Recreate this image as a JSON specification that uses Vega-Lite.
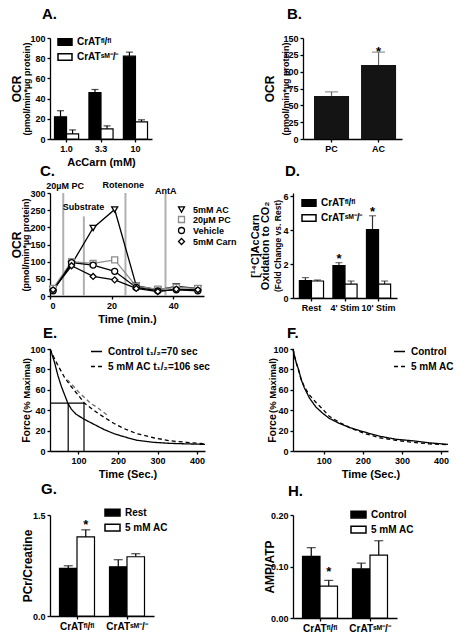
{
 "$schema": "https://vega.github.io/schema/vega-lite/v6.json",
 "padding": {"left": 10, "top": 7, "right": 0, "bottom": 0},
 "datasets": {
  "c": [
   {"t":1,"s":"5mM AC","v":20},{"t":7,"s":"5mM AC","v":92},{"t":14,"s":"5mM AC","v":198},{"t":21,"s":"5mM AC","v":252},{"t":28,"s":"5mM AC","v":30},{"t":35,"s":"5mM AC","v":18},{"t":41,"s":"5mM AC","v":28},{"t":48,"s":"5mM AC","v":22},
   {"t":1,"s":"20µM PC","v":22},{"t":7,"s":"20µM PC","v":100},{"t":14,"s":"20µM PC","v":95},{"t":21,"s":"20µM PC","v":105},{"t":28,"s":"20µM PC","v":28},{"t":35,"s":"20µM PC","v":20},{"t":41,"s":"20µM PC","v":25},{"t":48,"s":"20µM PC","v":22},
   {"t":1,"s":"Vehicle","v":15},{"t":7,"s":"Vehicle","v":97},{"t":14,"s":"Vehicle","v":90},{"t":21,"s":"Vehicle","v":72},{"t":28,"s":"Vehicle","v":25},{"t":35,"s":"Vehicle","v":15},{"t":41,"s":"Vehicle","v":18},{"t":48,"s":"Vehicle","v":15},
   {"t":1,"s":"5mM Carn","v":18},{"t":7,"s":"5mM Carn","v":88},{"t":14,"s":"5mM Carn","v":57},{"t":21,"s":"5mM Carn","v":47},{"t":28,"s":"5mM Carn","v":22},{"t":35,"s":"5mM Carn","v":13},{"t":41,"s":"5mM Carn","v":20},{"t":48,"s":"5mM Carn","v":18}
  ],
  "e": [
   {"t":28,"s":"Control t₁/₂=70 sec","v":100},{"t":32,"s":"Control t₁/₂=70 sec","v":96},{"t":36,"s":"Control t₁/₂=70 sec","v":91},{"t":40,"s":"Control t₁/₂=70 sec","v":86},{"t":48,"s":"Control t₁/₂=70 sec","v":74},{"t":57,"s":"Control t₁/₂=70 sec","v":63},{"t":65,"s":"Control t₁/₂=70 sec","v":55},{"t":73,"s":"Control t₁/₂=70 sec","v":47},{"t":82,"s":"Control t₁/₂=70 sec","v":41},{"t":94,"s":"Control t₁/₂=70 sec","v":36},{"t":115,"s":"Control t₁/₂=70 sec","v":31},{"t":140,"s":"Control t₁/₂=70 sec","v":26},{"t":165,"s":"Control t₁/₂=70 sec","v":21},{"t":190,"s":"Control t₁/₂=70 sec","v":17},{"t":215,"s":"Control t₁/₂=70 sec","v":14},{"t":248,"s":"Control t₁/₂=70 sec","v":10.5},{"t":290,"s":"Control t₁/₂=70 sec","v":8.5},{"t":332,"s":"Control t₁/₂=70 sec","v":7.5},{"t":373,"s":"Control t₁/₂=70 sec","v":7},{"t":420,"s":"Control t₁/₂=70 sec","v":6.5},
   {"t":28,"s":"5 mM AC t₁/₂=106 sec","v":100},{"t":34,"s":"5 mM AC t₁/₂=106 sec","v":95},{"t":40,"s":"5 mM AC t₁/₂=106 sec","v":90},{"t":48,"s":"5 mM AC t₁/₂=106 sec","v":84},{"t":65,"s":"5 mM AC t₁/₂=106 sec","v":72},{"t":82,"s":"5 mM AC t₁/₂=106 sec","v":63},{"t":99,"s":"5 mM AC t₁/₂=106 sec","v":55},{"t":115,"s":"5 mM AC t₁/₂=106 sec","v":47},{"t":132,"s":"5 mM AC t₁/₂=106 sec","v":42},{"t":149,"s":"5 mM AC t₁/₂=106 sec","v":37},{"t":165,"s":"5 mM AC t₁/₂=106 sec","v":33},{"t":190,"s":"5 mM AC t₁/₂=106 sec","v":27},{"t":215,"s":"5 mM AC t₁/₂=106 sec","v":22},{"t":248,"s":"5 mM AC t₁/₂=106 sec","v":17},{"t":290,"s":"5 mM AC t₁/₂=106 sec","v":13},{"t":332,"s":"5 mM AC t₁/₂=106 sec","v":10},{"t":373,"s":"5 mM AC t₁/₂=106 sec","v":8.5},{"t":420,"s":"5 mM AC t₁/₂=106 sec","v":7},
   {"t":72,"s":"AC2","v":70},{"t":100,"s":"AC2","v":58},{"t":130,"s":"AC2","v":47},{"t":150,"s":"AC2","v":42},{"t":177,"s":"AC2","v":34}
  ],
  "f": [
   {"t":21,"s":"Control","v":100},{"t":25,"s":"Control","v":93},{"t":29,"s":"Control","v":87},{"t":36,"s":"Control","v":79},{"t":42,"s":"Control","v":70},{"t":50,"s":"Control","v":62},{"t":63,"s":"Control","v":52},{"t":80,"s":"Control","v":43},{"t":97,"s":"Control","v":37},{"t":114,"s":"Control","v":32},{"t":140,"s":"Control","v":27},{"t":166,"s":"Control","v":23},{"t":200,"s":"Control","v":19},{"t":243,"s":"Control","v":14.5},{"t":285,"s":"Control","v":11.5},{"t":328,"s":"Control","v":10},{"t":370,"s":"Control","v":8},{"t":418,"s":"Control","v":6.5},
   {"t":21,"s":"5 mM AC","v":100},{"t":25,"s":"5 mM AC","v":93},{"t":29,"s":"5 mM AC","v":87},{"t":36,"s":"5 mM AC","v":78},{"t":42,"s":"5 mM AC","v":70},{"t":50,"s":"5 mM AC","v":63},{"t":63,"s":"5 mM AC","v":55},{"t":80,"s":"5 mM AC","v":47.5},{"t":97,"s":"5 mM AC","v":41},{"t":114,"s":"5 mM AC","v":34},{"t":140,"s":"5 mM AC","v":28},{"t":166,"s":"5 mM AC","v":23},{"t":200,"s":"5 mM AC","v":17.7},{"t":243,"s":"5 mM AC","v":13},{"t":285,"s":"5 mM AC","v":10.5},{"t":328,"s":"5 mM AC","v":8.5},{"t":370,"s":"5 mM AC","v":7},{"t":418,"s":"5 mM AC","v":6.2}
  ]
 },
 "config": {
  "font": "Liberation Sans",
  "view": {"stroke": null},
  "axis": {"labelFont": "Liberation Sans", "labelFontSize": 9, "labelFontWeight": "bold", "labelColor": "black", "titleFont": "Liberation Sans", "titleFontSize": 11, "titleFontWeight": "bold", "titleColor": "black", "domainColor": "black", "domainWidth": 1.3, "tickColor": "black", "tickWidth": 1.3, "tickSize": 3, "labelPadding": 2, "grid": false},
  "axisX": {"titlePadding": 3},
  "axisY": {"titleBaseline": "alphabetic"},
  "title": {"font": "Liberation Sans", "fontSize": 15, "fontWeight": "bold", "color": "black", "anchor": "start", "frame": "group", "offset": 8},
  "legend": {"labelFont": "Liberation Sans", "labelFontWeight": "bold", "labelColor": "black", "labelFontSize": 10, "padding": 0, "rowPadding": 1, "labelOffset": 4}
 },
 "columns": 2,
 "spacing": {"row": -3, "column": 11},
 "align": "each",
 "bounds": "full",
 "resolve": {"scale": {"fill": "independent", "xOffset": "independent", "shape": "independent", "stroke": "independent", "color": "independent", "strokeDash": "independent"}, "legend": {"fill": "independent", "shape": "independent", "stroke": "independent", "color": "independent", "strokeDash": "independent"}},
 "concat": [
  {
   "width": 102, "height": 101,
   "title": {"text": "A.", "dx": -8, "offset": 12},
   "data": {"values": [
    {"dose":"1.0","g":"CrATᶠˡ/ᶠˡ","v":22,"u":28},
    {"dose":"1.0","g":"CrATˢᴹ⁻/⁻","v":5,"u":9},
    {"dose":"3.3","g":"CrATᶠˡ/ᶠˡ","v":46,"u":49},
    {"dose":"3.3","g":"CrATˢᴹ⁻/⁻","v":10,"u":13},
    {"dose":"10","g":"CrATᶠˡ/ᶠˡ","v":82,"u":86},
    {"dose":"10","g":"CrATˢᴹ⁻/⁻","v":17,"u":19}
   ]},
   "encoding": {
    "x": {"field":"dose","type":"nominal","sort":["1.0","3.3","10"],"scale":{"paddingInner":0.3,"paddingOuter":0.13},"axis":{"title":"AcCarn (mM)","labelAngle":0}},
    "xOffset": {"field":"g","type":"nominal","sort":["CrATᶠˡ/ᶠˡ","CrATˢᴹ⁻/⁻"]}
   },
   "layer": [
    {"mark":{"type":"rule","color":"black","strokeWidth":1.2},"encoding":{"y":{"field":"v","type":"quantitative","scale":{"domain":[0,100],"nice":false},"axis":{"values":[0,20,40,60,80,100],"title":"(pmol/min*µg protein)","titleFontSize":9,"titleX":-21}},"y2":{"field":"u"}}},
    {"mark":{"type":"tick","color":"black","thickness":1.2,"size":7},"encoding":{"y":{"field":"u","type":"quantitative","axis":null}}},
    {"mark":{"type":"bar","stroke":"black","strokeWidth":1.2},"encoding":{"y":{"field":"v","type":"quantitative","axis":{"orient":"left","title":"OCR","titleFontSize":12,"titleX":-29.5,"labels":false,"ticks":false,"domain":false}},"fill":{"field":"g","type":"nominal","sort":["CrATᶠˡ/ᶠˡ","CrATˢᴹ⁻/⁻"],"scale":{"range":["black","white"]},"legend":{"orient":"none","legendX":7,"legendY":-4,"title":null,"symbolType":"M-1,-0.45H1V0.45H-1Z","symbolSize":196,"labelFontSize":10,"rowPadding":-4,"encode":{"symbols":{"update":{"stroke":{"value":"black"},"strokeWidth":{"value":1.2}}}}}}}}
   ],
   "resolve": {"axis": {"y": "independent"}}
  },
  {
   "width": 109, "height": 101,
   "title": {"text": "B.", "dx": -6, "offset": 12},
   "data": {"values": [{"c":"PC","v":64,"u":70},{"c":"AC","v":110,"u":129,"s":"*"}]},
   "encoding": {"x": {"field":"c","type":"nominal","sort":["PC","AC"],"scale":{"range":[10,109],"paddingInner":0.255,"paddingOuter":0.18,"align":0.65},"axis":{"title":null,"labelAngle":0}}},
   "layer": [
    {"mark":{"type":"rule","color":"#666666","strokeWidth":1.2},"encoding":{"y":{"field":"v","type":"quantitative","scale":{"domain":[0,150],"nice":false},"axis":{"offset":-10,"values":[0,25,50,75,100,125,150],"title":"(pmol/min*µg protein)","titleFontSize":9,"titleX":-15}},"y2":{"field":"u"}}},
    {"mark":{"type":"tick","color":"#666666","thickness":1.2,"size":13},"encoding":{"y":{"field":"u","type":"quantitative","axis":null}}},
    {"mark":{"type":"bar","color":"#141414"},"encoding":{"y":{"field":"v","type":"quantitative","axis":{"orient":"left","offset":-10,"title":"OCR","titleFontSize":12,"titleX":-30,"labels":false,"ticks":false,"domain":false}}}},
    {"transform":[{"filter":"datum.s"}],"mark":{"type":"text","fontSize":13,"fontWeight":"bold","baseline":"alphabetic","dy":4,"color":"black"},"encoding":{"y":{"field":"u","type":"quantitative","axis":null},"text":{"field":"s"}}}
   ],
   "resolve": {"axis": {"y": "independent"}}
  },
  {
   "width": 154, "height": 103,
   "title": {"text": "C.", "dx": -10, "offset": 2},
   "layer": [
    {
     "data": {"values": [{"t":4.3,"b":0,"top":300},{"t":11,"b":0,"top":232},{"t":24.5,"b":0,"top":300},{"t":37.5,"b":0,"top":297}]},
     "mark": {"type":"rule","color":"#b0b0b0","strokeWidth":2},
     "encoding": {
      "x": {"field":"t","type":"quantitative","scale":{"domain":[0,50],"nice":false},"axis":{"values":[0,10,20,30,40,50],"title":["Time (min.)",""],"titleLineHeight":5}},
      "y": {"field":"b","type":"quantitative","scale":{"domain":[0,300],"nice":false},"axis":{"values":[0,50,100,150,200,250,300],"title":"(pmol/min*µg protein)","titleFontSize":9,"titleX":-22}},
      "y2": {"field":"top"}
     }
    },
    {
     "data": {"values": [{"t":4.9,"y":320,"label":"20µM PC"},{"t":10.9,"y":259,"label":"Substrate"},{"t":23.8,"y":323,"label":"Rotenone"},{"t":37.6,"y":306,"label":"AntA"}]},
     "mark": {"type":"text","fontSize":9,"fontWeight":"bold","color":"black"},
     "encoding": {"x":{"field":"t","type":"quantitative"},"y":{"field":"y","type":"quantitative","axis":null},"text":{"field":"label"}}
    },
    {
     "data": {"name":"c"},
     "mark": {"type":"line","strokeWidth":1.3},
     "encoding": {
      "x": {"field":"t","type":"quantitative"},
      "y": {"field":"v","type":"quantitative","axis":{"orient":"left","title":"OCR","titleFontSize":12,"titleX":-30,"labels":false,"ticks":false,"domain":false}},
      "color": {"field":"s","type":"nominal","sort":["5mM AC","20µM PC","Vehicle","5mM Carn"],"scale":{"range":["black","#8c8c8c","black","black"]},"legend":null}
     }
    },
    {
     "data": {"name":"c"},
     "mark": {"type":"point","filled":true,"fill":"white","strokeWidth":1.3,"size":36,"opacity":1},
     "encoding": {
      "x": {"field":"t","type":"quantitative"},
      "y": {"field":"v","type":"quantitative","axis":null},
      "shape": {"field":"s","type":"nominal","scale":{"domain":["5mM AC","20µM PC","Vehicle","5mM Carn"],"range":["triangle-down","square","circle","diamond"]},"legend":{"orient":"none","legendX":127,"legendY":12,"title":null,"symbolSize":36,"symbolStrokeWidth":1.3,"labelFontSize":9,"rowPadding":-5,"labelOffset":7,"encode":{"labels":{"update":{"fill":{"signal":"datum.value === '20µM PC' ? '#8c8c8c' : 'black'"},"fontWeight":{"signal":"datum.value === '20µM PC' ? 'normal' : 'bold'"}}},"symbols":{"update":{"fill":{"value":"white"},"shape":{"signal":"datum.value === '5mM AC' ? 'M-2,0H-1M1,0H2M-1,-0.85H1L0,0.95Z' : datum.value === '20µM PC' ? 'M-2,0H-0.9M0.9,0H2M-0.9,-0.9H0.9V0.9H-0.9Z' : datum.value === 'Vehicle' ? 'M-2,0H-1M1,0H2M1,0A1,1,0,1,1,-1,0A1,1,0,1,1,1,0Z' : 'M-2,0H-1.1M1.1,0H2M0,-1.1L1.1,0L0,1.1L-1.1,0Z'"}}}}}},
      "stroke": {"field":"s","type":"nominal","scale":{"domain":["5mM AC","20µM PC","Vehicle","5mM Carn"],"range":["black","#8c8c8c","black","black"]},"legend":{"orient":"none","legendX":127,"legendY":12,"title":null,"symbolSize":36,"symbolStrokeWidth":1.3,"labelFontSize":9,"rowPadding":-5,"labelOffset":7}}
     }
    }
   ],
   "resolve": {"axis": {"y": "independent"}}
  },
  {
   "width": 104, "height": 105,
   "title": {"text": "D.", "dx": -8, "offset": 13},
   "data": {"values": [
    {"c":"Rest","g":"CrATᶠˡ/ᶠˡ","v":1.02,"u":1.2},
    {"c":"Rest","g":"CrATˢᴹ⁻/⁻","v":1.0,"u":1.06},
    {"c":"4' Stim","g":"CrATᶠˡ/ᶠˡ","v":1.9,"u":2.08,"s":"*"},
    {"c":"4' Stim","g":"CrATˢᴹ⁻/⁻","v":0.82,"u":1.0},
    {"c":"10' Stim","g":"CrATᶠˡ/ᶠˡ","v":4.02,"u":4.84,"s":"*"},
    {"c":"10' Stim","g":"CrATˢᴹ⁻/⁻","v":0.82,"u":1.0}
   ]},
   "encoding": {
    "x": {"field":"c","type":"nominal","sort":["Rest","4' Stim","10' Stim"],"scale":{"paddingInner":0.28,"paddingOuter":0.19},"axis":{"title":null,"labelAngle":0}},
    "xOffset": {"field":"g","type":"nominal","sort":["CrATᶠˡ/ᶠˡ","CrATˢᴹ⁻/⁻"]}
   },
   "layer": [
    {"mark":{"type":"rule","color":"#333333","strokeWidth":1.2},"encoding":{"y":{"field":"v","type":"quantitative","scale":{"domain":[0,6.18],"nice":false},"axis":{"values":[0,2,4,6],"title":"(Fold Change vs. Rest)","titleFontSize":8.5,"titleX":-13}},"y2":{"field":"u"}}},
    {"mark":{"type":"tick","color":"#333333","thickness":1.2,"size":7},"encoding":{"y":{"field":"u","type":"quantitative","axis":null}}},
    {"mark":{"type":"bar","stroke":"black","strokeWidth":1.2},"encoding":{"y":{"field":"v","type":"quantitative","axis":{"orient":"left","title":["[¹⁴C]AcCarn","Oxidation to CO₂"],"titleFontSize":11,"titleLineHeight":10,"titleX":-35,"labels":false,"ticks":false,"domain":false}},"fill":{"field":"g","type":"nominal","sort":["CrATᶠˡ/ᶠˡ","CrATˢᴹ⁻/⁻"],"scale":{"range":["black","white"]},"legend":{"orient":"none","legendX":8,"legendY":2,"title":null,"symbolType":"M-1,-0.45H1V0.45H-1Z","symbolSize":196,"labelFontSize":10,"rowPadding":-6,"encode":{"symbols":{"update":{"stroke":{"value":"black"},"strokeWidth":{"value":1.2}}}}}}}},
    {"transform":[{"filter":"datum.s"}],"mark":{"type":"text","fontSize":13,"fontWeight":"bold","baseline":"alphabetic","dy":0,"color":"black"},"encoding":{"y":{"field":"u","type":"quantitative","axis":null},"text":{"field":"s"}}}
   ],
   "resolve": {"axis": {"y": "independent"}}
  },
  {
   "width": 155, "height": 102,
   "title": {"text": "E.", "dx": -7, "offset": 4},
   "layer": [
    {
     "data": {"values": [{"x":28,"x2":114,"y":47,"y2":47},{"x":74,"x2":74,"y":0,"y2":47},{"x":114,"x2":114,"y":0,"y2":47}]},
     "mark": {"type":"rule","color":"black","strokeWidth":1.2},
     "encoding": {
      "x": {"field":"x","type":"quantitative","scale":{"domain":[28,420],"nice":false},"axis":{"values":[100,200,300,400],"title":["Time (Sec.)",""],"titleLineHeight":6}},
      "x2": {"field":"x2"},
      "y": {"field":"y","type":"quantitative","scale":{"domain":[0,100],"nice":false},"axis":{"values":[0,20,40,60,80,100],"title":"(% Maximal)","titleFontSize":9.5,"titleX":-21,"titleY":36}},
      "y2": {"field":"y2"}
     }
    },
    {
     "data": {"name":"e"},
     "mark": {"type":"line","strokeWidth":1.3},
     "encoding": {
      "x": {"field":"t","type":"quantitative"},
      "y": {"field":"v","type":"quantitative","axis":{"orient":"left","title":"Force","titleFontSize":10.5,"titleX":-21,"titleY":79,"labels":false,"ticks":false,"domain":false}},
      "color": {"condition":{"test":"datum.s === 'AC2'","value":"#6e6e6e"},"value":"black"},
      "strokeDash": {"field":"s","type":"nominal","scale":{"domain":["Control t₁/₂=70 sec","5 mM AC t₁/₂=106 sec","AC2"],"range":[[1,0],[4,3],[4,3]]},"legend":{"values":["Control t₁/₂=70 sec","5 mM AC t₁/₂=106 sec"],"orient":"none","legendX":40,"legendY":-4,"title":null,"symbolType":"stroke","symbolSize":121,"symbolStrokeColor":"black","symbolStrokeWidth":1.3,"labelFontSize":10,"rowPadding":3,"labelOffset":5}}
     }
    }
   ],
   "resolve": {"axis": {"y": "independent"}}
  },
  {
   "width": 155, "height": 102,
   "title": {"text": "F.", "dx": -6, "offset": 4},
   "data": {"name":"f"},
   "layer": [
    {
     "mark": {"type":"line","strokeWidth":1.3,"color":"black"},
     "encoding": {
      "x": {"field":"t","type":"quantitative","scale":{"domain":[21,418],"nice":false},"axis":{"values":[100,200,300,400],"title":"Time (Sec.)"}},
      "y": {"field":"v","type":"quantitative","scale":{"domain":[0,100],"nice":false},"axis":{"values":[0,20,40,60,80,100],"title":"(% Maximal)","titleFontSize":9.5,"titleX":-18,"titleY":36}},
      "strokeDash": {"field":"s","type":"nominal","scale":{"domain":["Control","5 mM AC"],"range":[[1,0],[4,3]]},"legend":{"orient":"none","legendX":100,"legendY":-4,"title":null,"symbolType":"stroke","symbolSize":121,"symbolStrokeColor":"black","symbolStrokeWidth":1.3,"labelFontSize":10,"rowPadding":3,"labelOffset":5}}
     }
    },
    {
     "mark": {"type":"line","strokeWidth":0,"opacity":0},
     "encoding": {
      "x": {"field":"t","type":"quantitative"},
      "y": {"field":"v","type":"quantitative","axis":{"orient":"left","title":"Force","titleFontSize":10.5,"titleX":-18,"titleY":79,"labels":false,"ticks":false,"domain":false}},
      "detail": {"field":"s","type":"nominal"}
     }
    }
   ],
   "resolve": {"axis": {"y": "independent"}}
  },
  {
   "width": 104, "height": 101,
   "title": {"text": "G.", "dx": -9, "offset": 7},
   "data": {"values": [
    {"c":"CrATᶠˡ/ᶠˡ","g":"Rest","v":0.706,"u":0.746},
    {"c":"CrATᶠˡ/ᶠˡ","g":"5 mM AC","v":1.174,"u":1.28,"s":"*"},
    {"c":"CrATˢᴹ⁻/⁻","g":"Rest","v":0.731,"u":0.836},
    {"c":"CrATˢᴹ⁻/⁻","g":"5 mM AC","v":0.88,"u":0.925}
   ]},
   "encoding": {
    "x": {"field":"c","type":"nominal","sort":["CrATᶠˡ/ᶠˡ","CrATˢᴹ⁻/⁻"],"scale":{"paddingInner":0.3,"paddingOuter":0.19},"axis":{"title":null,"labelAngle":0,"labelFontSize":10}},
    "xOffset": {"field":"g","type":"nominal","sort":["Rest","5 mM AC"]}
   },
   "layer": [
    {"mark":{"type":"rule","color":"black","strokeWidth":1.2},"encoding":{"y":{"field":"v","type":"quantitative","scale":{"domain":[0,1.5],"nice":false},"axis":{"values":[0,0.5,1,1.5],"format":".1f","title":"PCr/Creatine","titleFontSize":12,"titleX":-19}},"y2":{"field":"u"}}},
    {"mark":{"type":"tick","color":"black","thickness":1.2,"size":9},"encoding":{"y":{"field":"u","type":"quantitative"}}},
    {"mark":{"type":"bar","stroke":"black","strokeWidth":1.2},"encoding":{"y":{"field":"v","type":"quantitative"},"fill":{"field":"g","type":"nominal","sort":["Rest","5 mM AC"],"scale":{"range":["black","white"]},"legend":{"orient":"none","legendX":54,"legendY":-11,"title":null,"symbolType":"M-1,-0.45H1V0.45H-1Z","symbolSize":225,"labelFontSize":10,"rowPadding":-7,"encode":{"symbols":{"update":{"stroke":{"value":"black"},"strokeWidth":{"value":1.2}}}}}}}},
    {"transform":[{"filter":"datum.s"}],"mark":{"type":"text","fontSize":13,"fontWeight":"bold","baseline":"alphabetic","dy":-1,"color":"black"},"encoding":{"y":{"field":"u","type":"quantitative"},"text":{"field":"s"}}}
   ]
  },
  {
   "width": 104, "height": 103,
   "title": {"text": "H.", "dx": -5, "offset": 7},
   "data": {"values": [
    {"c":"CrATᶠˡ/ᶠˡ","g":"Control","v":0.1196,"u":0.1366},
    {"c":"CrATᶠˡ/ᶠˡ","g":"5 mM AC","v":0.062,"u":0.073,"s":"*"},
    {"c":"CrATˢᴹ⁻/⁻","g":"Control","v":0.0954,"u":0.1065},
    {"c":"CrATˢᴹ⁻/⁻","g":"5 mM AC","v":0.122,"u":0.150}
   ]},
   "encoding": {
    "x": {"field":"c","type":"nominal","sort":["CrATᶠˡ/ᶠˡ","CrATˢᴹ⁻/⁻"],"scale":{"paddingInner":0.3,"paddingOuter":0.19},"axis":{"title":null,"labelAngle":0,"labelFontSize":10}},
    "xOffset": {"field":"g","type":"nominal","sort":["Control","5 mM AC"]}
   },
   "layer": [
    {"mark":{"type":"rule","color":"black","strokeWidth":1.2},"encoding":{"y":{"field":"v","type":"quantitative","scale":{"domain":[0,0.2],"nice":false},"axis":{"values":[0,0.05,0.1,0.15,0.2],"format":".2f","title":"AMP/ATP","titleFontSize":12,"titleX":-20}},"y2":{"field":"u"}}},
    {"mark":{"type":"tick","color":"black","thickness":1.2,"size":9},"encoding":{"y":{"field":"u","type":"quantitative"}}},
    {"mark":{"type":"bar","stroke":"black","strokeWidth":1.2},"encoding":{"y":{"field":"v","type":"quantitative"},"fill":{"field":"g","type":"nominal","sort":["Control","5 mM AC"],"scale":{"range":["black","white"]},"legend":{"orient":"none","legendX":57,"legendY":-9,"title":null,"symbolType":"M-1,-0.45H1V0.45H-1Z","symbolSize":225,"labelFontSize":10,"rowPadding":-7,"encode":{"symbols":{"update":{"stroke":{"value":"black"},"strokeWidth":{"value":1.2}}}}}}}},
    {"transform":[{"filter":"datum.s"}],"mark":{"type":"text","fontSize":13,"fontWeight":"bold","baseline":"alphabetic","dy":-4,"color":"black"},"encoding":{"y":{"field":"u","type":"quantitative"},"text":{"field":"s"}}}
   ]
  }
 ]
}
